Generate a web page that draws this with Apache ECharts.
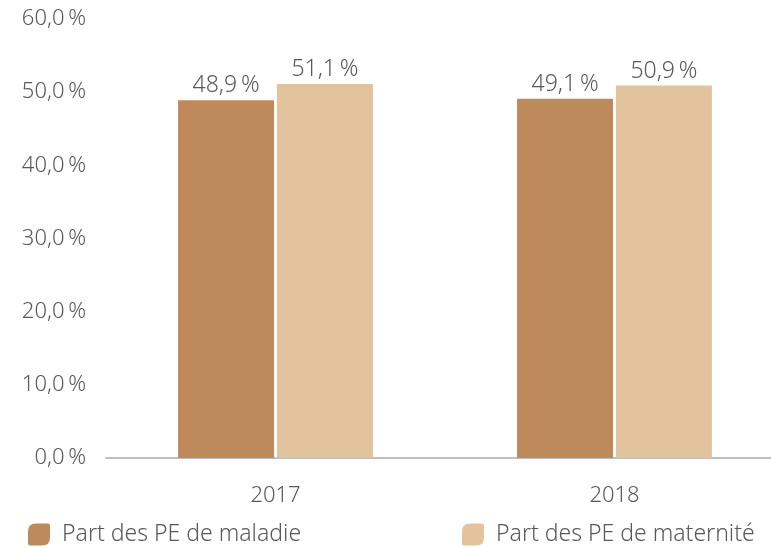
<!DOCTYPE html>
<html>
<head>
    <meta charset="utf-8">
    <title>Part des PE</title>
    <script src="https://cdn.jsdelivr.net/npm/echarts@6/dist/echarts.min.js"></script>
    <style>
        html, body { margin: 0; padding: 0; background: #fff; }
        #chart1 { width: 771px; height: 548px; }
    </style>
</head>
<body>
<div id="chart1"></div>
<script type="text/javascript">
    // données
    var annees = ['2017', '2018'];
    var partMaladie = [48.9, 49.1];
    var partMaternite = [51.1, 50.9];
    var nomsSeries = ['Part des PE de maladie', 'Part des PE de maternité'];

    var couleurs = ['#BE8A5C', '#E3C29E'];
    var police = 'Noto Sans';
    var gris = '#595959';
    // icône de légende : carré aux coins arrondis en haut à gauche / bas à droite
    var icone = 'path://M8,0 L20,0 Q22,0 22,2 L22,14 Q22,22 14,22 L2,22 Q0,22 0,20 L0,8 Q0,0 8,0 Z';

    function pourcent(v) {
        return v.toFixed(1).replace('.', ',') + '\u2009%';
    }

    var myChart1 = echarts.init(document.getElementById('chart1'));

    var texteLegende = {
        fontFamily: police,
        fontSize: 23,
        fontWeight: 300,
        color: gris,
        padding: [0, 0, 0, 7]
    };

    myChart1.setOption({
        animation: false,
        textStyle: { fontFamily: police },
        grid: {
            left: 106,
            top: 19,
            width: 678,
            height: 439,
            containLabel: false,
            outerBoundsMode: 'none'
        },
        legend: [
            {
                data: [{ name: nomsSeries[0], icon: icone }],
                left: 28,
                top: 523,
                padding: 0,
                itemWidth: 22,
                itemHeight: 22,
                textStyle: texteLegende
            },
            {
                data: [{ name: nomsSeries[1], icon: icone }],
                left: 462,
                top: 523,
                padding: 0,
                itemWidth: 22,
                itemHeight: 22,
                textStyle: texteLegende
            }
        ],
        xAxis: {
            type: 'category',
            data: annees,
            axisLine: { lineStyle: { color: '#BFBFBF', width: 2 } },
            axisTick: { show: false },
            axisLabel: { fontFamily: police, fontSize: 22, fontWeight: 300, color: gris, margin: 27 }
        },
        yAxis: {
            type: 'value',
            min: 0,
            max: 60,
            interval: 10,
            splitLine: { show: false },
            axisLine: { show: false },
            axisTick: { show: false },
            axisLabel: {
                fontFamily: police,
                fontSize: 22,
                fontWeight: 300,
                color: gris,
                margin: 20,
                formatter: pourcent
            }
        },
        series: [
            {
                name: nomsSeries[0],
                type: 'bar',
                data: partMaladie,
                barWidth: 96,
                barGap: '3%',
                itemStyle: { color: couleurs[0] },
                label: {
                    show: true,
                    position: 'top',
                    distance: 3,
                    fontFamily: police,
                    fontSize: 23,
                    fontWeight: 300,
                    color: gris,
                    formatter: function (p) { return pourcent(p.value); }
                }
            },
            {
                name: nomsSeries[1],
                type: 'bar',
                data: partMaternite,
                barWidth: 96,
                itemStyle: { color: couleurs[1] },
                label: {
                    show: true,
                    position: 'top',
                    distance: 3,
                    fontFamily: police,
                    fontSize: 23,
                    fontWeight: 300,
                    color: gris,
                    formatter: function (p) { return pourcent(p.value); }
                }
            }
        ]
    });
</script>
</body>
</html>
